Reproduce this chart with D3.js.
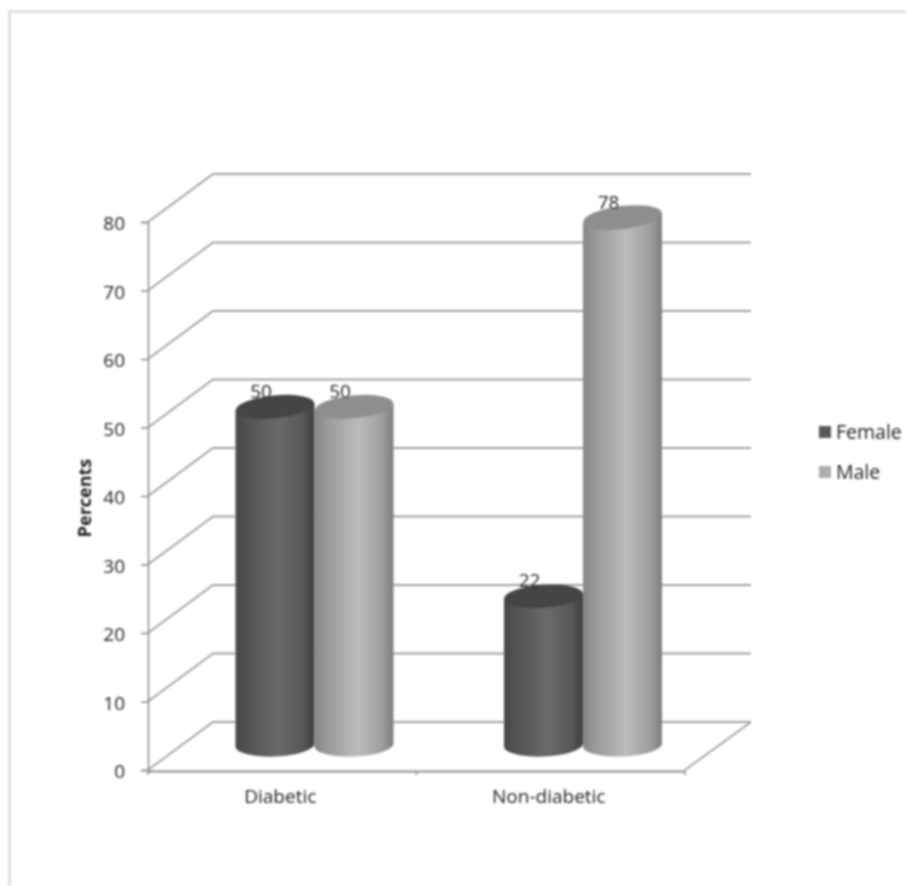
<!DOCTYPE html>
<html>
<head>
<meta charset="utf-8">
<script src="https://d3js.org/d3.v7.min.js"></script>
<style>
  html, body { margin: 0; padding: 0; background: #fff; }
  text { font-family: "Open Sans", Lato, sans-serif; fill: #222; }
</style>
</head>
<body>
<div id="chart"></div>
<script>
// chart values
const categories = ["Diabetic", "Non-diabetic"];
const seriesNames = ["Female", "Male"];
const female = [50, 22];
const male = [50, 78];
const yTicks = [0, 10, 20, 30, 40, 50, 60, 70, 80];

const width = 912, height = 886;
const depthX = 65, depthY = -48;

const svg = d3.select("#chart").append("svg")
  .attr("width", width)
  .attr("height", height)
  .style("display", "block");

const defs = svg.append("defs");

// the reference is a soft scan, so everything gets a small blur
defs.append("filter")
  .attr("id", "soft")
  .attr("filterUnits", "userSpaceOnUse")
  .attr("x", 0).attr("y", 0)
  .attr("width", width).attr("height", height)
  .append("feGaussianBlur")
  .attr("stdDeviation", 0.8);

function addGradient(id, stops) {
  let g = defs.append("linearGradient").attr("id", id);
  stops.forEach(function(s) {
    g.append("stop").attr("offset", s[0]).attr("stop-color", s[1]);
  });
}
addGradient("bodyFemale", [[0, "#484848"], [0.15, "#535353"], [0.55, "#6a6a6a"], [0.85, "#585858"], [1, "#3e3e3e"]]);
addGradient("bodyMale", [[0, "#858585"], [0.15, "#999999"], [0.55, "#bbbbbb"], [0.85, "#9e9e9e"], [1, "#7e7e7e"]]);

const topColor = { Female: "#454545", Male: "#8e8e8e" };
const legendColor = { Female: "#585858", Male: "#adadad" };

const root = svg.append("g").attr("filter", "url(#soft)");

// outer frame of the picture
root.append("path")
  .attr("d", "M9.5,886V11.5H906")
  .attr("fill", "none")
  .attr("stroke", "#d2d2d2")
  .attr("stroke-width", 2);

// scales
const y = d3.scaleLinear().domain([0, 80]).range([770, 222]);
const yBar = d3.scaleLinear().domain([0, 80]).range([745, 204]);
const x = d3.scaleBand().domain(categories).range([148, 685]);
const xBar = d3.scaleBand().domain(categories).range([148 + depthX / 2, 685 + depthX / 2]);
const xSeries = d3.scaleBand().domain(seriesNames).range([55, 213]);

// walls and gridlines
const gridColor = "#a0a0a0";
root.append("g").selectAll("path")
  .data(yTicks)
  .enter().append("path")
  .attr("fill", "none")
  .attr("stroke", gridColor)
  .attr("stroke-width", 1.8)
  .attr("d", function(d) {
    let y0 = y(d);
    return "M148," + y0 + "L" + (148 + depthX) + "," + (y0 + depthY) + "H751";
  });

// floor
root.append("path")
  .attr("fill", "none")
  .attr("stroke", gridColor)
  .attr("stroke-width", 1.8)
  .attr("d", "M685," + y(0) + "L751," + (y(0) + depthY));

// y axis
const yAxis = root.append("g")
  .attr("transform", "translate(148,0)")
  .call(d3.axisLeft(y).tickValues(yTicks).tickSize(7).tickPadding(16));
yAxis.selectAll("text").style("font-size", "19px").attr("dy", "0.4em").attr("fill", "#222");
yAxis.selectAll("line").attr("stroke", "#8a8a8a").attr("stroke-width", 1.5);
yAxis.select(".domain").attr("stroke", "#8a8a8a").attr("stroke-width", 1.5);

// x axis, labels centred in the band with ticks on the band edges
const xAxis = root.append("g")
  .attr("transform", "translate(0," + (y(0) + 1) + ")")
  .call(d3.axisBottom(x).tickSize(0).tickPadding(19));
xAxis.selectAll("text").style("font-size", "19px").attr("dx", -2).attr("fill", "#333");
xAxis.select(".domain").attr("stroke", "#8a8a8a").attr("stroke-width", 1.8);
xAxis.selectAll(".edge")
  .data([148, 148 + x.bandwidth(), 148 + 2 * x.bandwidth()])
  .enter().append("line")
  .attr("class", "edge")
  .attr("x1", function(d) { return d; })
  .attr("x2", function(d) { return d; })
  .attr("y1", 0)
  .attr("y2", 4)
  .attr("stroke", "#8a8a8a")
  .attr("stroke-width", 1.5);

// cylinders
const ry = 11.5;

// perspective makes the ellipses lean more the higher they are
function rise(h) {
  return 3.5 + h * 0.08;
}
function tiltAngle(h, rx) {
  return -Math.atan(rise(h) / (2 * rx)) * 180 / Math.PI;
}

const bars = [];
categories.forEach(function(c, i) {
  bars.push({ cat: c, name: "Female", value: female[i] });
  bars.push({ cat: c, name: "Male", value: male[i] });
});

const cyl = root.append("g").selectAll("g")
  .data(bars)
  .enter().append("g");

cyl.append("path")
  .attr("fill", function(d) { return "url(#body" + d.name + ")"; })
  .attr("d", function(d) {
    let rx = xSeries.bandwidth() / 2;
    let cx = xBar(d.cat) + xSeries(d.name) + rx;
    let top = yBar(d.value), bottom = yBar(0);
    let r0 = rise(d.value) / 2, r1 = rise(0) / 2;
    return "M" + (cx - rx) + "," + (top + r0) +
      "L" + (cx + rx) + "," + (top - r0) +
      "L" + (cx + rx) + "," + (bottom - r1) +
      "A" + rx + "," + ry + " " + tiltAngle(0, rx) + " 0 1 " + (cx - rx) + "," + (bottom + r1) + "Z";
  });

cyl.append("ellipse")
  .attr("fill", function(d) { return topColor[d.name]; })
  .attr("cx", function(d) { return xBar(d.cat) + xSeries(d.name) + xSeries.bandwidth() / 2; })
  .attr("cy", function(d) { return yBar(d.value); })
  .attr("rx", xSeries.bandwidth() / 2)
  .attr("ry", ry)
  .attr("transform", function(d) {
    let rx = xSeries.bandwidth() / 2;
    let cx = xBar(d.cat) + xSeries(d.name) + rx;
    return "rotate(" + tiltAngle(d.value, rx) + "," + cx + "," + yBar(d.value) + ")";
  });

// data labels
root.append("g").selectAll("text")
  .data(bars)
  .enter().append("text")
  .attr("x", function(d) { return xBar(d.cat) + xSeries(d.name) + xSeries.bandwidth() / 2 - 14; })
  .attr("y", function(d) { return yBar(d.value) - 9; })
  .attr("text-anchor", "middle")
  .style("font-size", "19px")
  .text(function(d) { return d.value; });

// axis title
root.append("text")
  .attr("transform", "translate(91,498) rotate(-90)")
  .attr("text-anchor", "middle")
  .style("font-size", "18px")
  .style("font-weight", "bold")
  .text("Percents");

// legend
const legend = root.append("g").selectAll("g")
  .data(seriesNames)
  .enter().append("g")
  .attr("transform", function(_, i) { return "translate(819," + (426 + i * 40) + ")"; });

legend.append("rect")
  .attr("width", 12)
  .attr("height", 12)
  .attr("fill", function(d) { return legendColor[d]; });

legend.append("text")
  .attr("x", 17)
  .attr("y", 13)
  .style("font-size", "19.5px")
  .attr("fill", "#333")
  .text(function(d) { return d; });
</script>
</body>
</html>
